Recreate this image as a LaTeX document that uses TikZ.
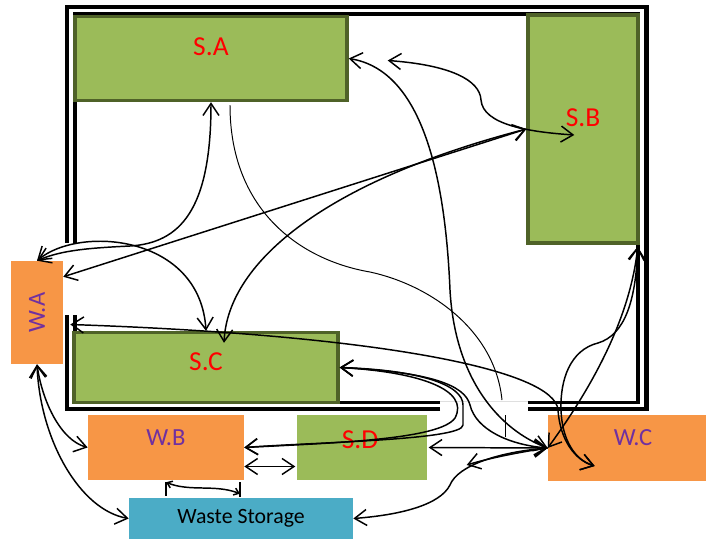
\documentclass[tikz,border=0pt]{standalone}
\usepackage{fontspec}
\setmainfont{Carlito}
\usepackage{xcolor}
\usetikzlibrary{arrows.meta, positioning, calc}

\definecolor{roomgreen}{HTML}{9BBB59}
\definecolor{roomedge}{HTML}{4F6228}
\definecolor{binorange}{HTML}{F79646}
\definecolor{storeblue}{HTML}{4BACC6}
\definecolor{binpurple}{HTML}{7030A0}

\begin{document}
\begin{tikzpicture}[x=0.025cm, y=-0.025cm,
  >={Straight Barb[length=3mm, width=4mm]},
  room/.style={draw=roomedge, line width=2.4pt, fill=roomgreen, inner sep=0pt},
  bin/.style={fill=binorange, inner sep=0pt},
  store/.style={fill=storeblue, inner sep=0pt, font=\fontsize{15.5}{18}\selectfont},
  roomtxt/.style={text=red, font=\fontsize{19.5}{22}\selectfont},
  bintxt/.style={text=binpurple, font=\fontsize{17.5}{20}\selectfont},
  wall/.style={line width=3pt},
  link/.style={<->, line width=1.05pt},
  trace/.style={line width=0.7pt},
  minilink/.style={{Straight Barb[length=1.2mm, width=1.8mm]}-{Straight Barb[length=1.2mm, width=1.8mm]}, line width=1.05pt}
]
  \useasboundingbox (0,0) rectangle (706,539);

  % Walls (double line, openings left and bottom)
  \draw[wall] (67,243) -- (67,7) -- (646.5,7) -- (646.5,409) -- (528,409);
  \draw[wall] (440,409) -- (67,409) -- (67,315);
  \draw[wall, line width=2.6pt] (75,243) -- (75,14) -- (638,14) -- (638,402.5) -- (528,402.5);
  \draw[wall, line width=2.6pt] (440,402.5) -- (75,402.5) -- (75,315);

  % Door
  \draw[gray!25, trace] (440,401) -- (528,401);
  \draw[trace] (505,415) -- (505,437);

  % Rooms
  \node[room, minimum width=6.8cm, minimum height=2.1cm,
        label={[roomtxt, yshift=0.29cm]center:S.A}] (sa) at (211,58.5) {};
  \node[room, minimum width=2.75cm, minimum height=5.7cm,
        label={[roomtxt, yshift=0.27cm]center:S.B}] (sb) at (583,129) {};
  \node[room, minimum width=6.6cm, minimum height=1.75cm,
        label={[roomtxt, yshift=0.14cm]center:S.C}] (sc) at (206,367.5) {};
  \node[room, draw=none, minimum width=3.25cm, minimum height=1.625cm,
        label={[roomtxt, xshift=-0.05cm, yshift=0.19cm]center:S.D}] (sd) at (362,447.5) {};

  % Waste points
  \node[bin, minimum width=1.3cm, minimum height=2.575cm,
        label={[bintxt, rotate=90]center:W.A}] (wa) at (37,312.5) {};
  \node[bin, minimum width=3.9cm, minimum height=1.625cm,
        label={[bintxt, yshift=0.24cm]center:W.B}] (wb) at (166,447.5) {};
  \node[bin, minimum width=3.95cm, minimum height=1.65cm,
        label={[bintxt, xshift=0.15cm, yshift=0.27cm]center:W.C}] (wc) at (627,448) {};
  \node[store, minimum width=5.6cm, minimum height=1.025cm] (ws) at (241,518.5) {Waste Storage};

  % Free ends
  \coordinate (wa-r) at ($(wa.north east)!0.155!(wa.south east)$);
  \coordinate (wa-in) at ($(wa.east)+(7,12)$);
  \coordinate (sc-in) at ($(sc.north)+(18,12)$);
  \coordinate (sb-in) at ($(sb.west)+(48,6)$);
  \coordinate (sb-bot) at ($(sb.south east)+(-2,2)$);
  \coordinate (sa-mark) at ($(sa.east)+(39,2)$);
  \coordinate (sa-foot) at ($(sa.south)+(19,3)$);
  \coordinate (door) at (502,400);
  \coordinate (wc-in) at ($(wc.west)+(47,18)$);
  \coordinate (wc-arr) at ($(wc.west)+(-81,17)$);
  \coordinate (wb-low) at ($(wb.east)+(0,19)$);
  \coordinate (sd-low) at ($(sd.west)+(0,19)$);
  \coordinate (wb-foot) at ($(wb.south)+(0,2)$);
  \coordinate (ws-head) at ($(ws.north)+(-1,-1)$);

  % Routes inside the building
  \draw[link] (sa.south) .. controls (211,210) and (180,243) .. (130,246)
              .. controls (90,248) and (62,250) .. (wa.north);
  \draw[link] (wa.north) .. controls (80,225) and (200,235) .. (sc.north);
  \draw[link] (wa-r) -- (sb.west);
  \draw[link] (sc-in) .. controls (228,260) and (330,180) .. (sb.west);
  \draw[link] (sa-mark) .. controls (450,65) and (480,80) .. (481,100)
              .. controls (483,125) and (530,132) .. (sb-in);
  \draw[link] (sa.east) .. controls (420,70) and (445,170) .. (450,290)
              .. controls (455,380) and (500,430) .. (wc.west);
  \draw[trace] (sa-foot) .. controls (230,210) and (300,260) .. (370,272)
              .. controls (430,285) and (495,330) .. (door);
  \draw[link] (wa-in) .. controls (380,335) and (555,370) .. (558,410)
              .. controls (560,440) and (575,460) .. (wc-in);
  \draw[link] (wc.west) .. controls (590,390) and (630,320) .. (sb-bot);
  \draw[link] (sb-bot) .. controls (636,300) and (625,335) .. (598,343)
              .. controls (570,350) and (560,380) .. (561,410)
              .. controls (562,440) and (575,460) .. (wc-in);

  % Routes out of S.C
  \draw[link] (sc.east) .. controls (420,372) and (470,390) .. (455,418)
              .. controls (440,440) and (330,443) .. (wb.east);
  \draw[link] (sc.east) .. controls (420,370) and (463,385) .. (463,405) -- (463,425)
              .. controls (463,440) and (320,442) .. (wb.east);
  \draw[link] (sc.east) .. controls (430,372) and (465,385) .. (470,405)
              .. controls (476,430) and (510,445) .. (wc.west);

  % Routes outside
  \draw[link] (sd.east) -- (wc.west);
  \draw[->, line width=1.05pt] (wc.west) .. controls (520,452) and (490,458) .. (wc-arr);
  \draw[link] (ws.east) .. controls (400,515) and (440,505) .. (450,485)
              .. controls (458,465) and (500,452) .. (wc.west);
  \draw[link] (wb-low) -- (sd-low);
  \draw[link] (wa.south) .. controls (42,400) and (60,440) .. (wb.west);
  \draw[link] (wa.south) .. controls (40,440) and (80,510) .. (ws.west);

  % W.B to storage
  \draw[line width=1.05pt] (wb-foot) -- ++(0,14);
  \draw[line width=1.05pt] (ws-head) -- ++(0,-15);
  \draw[minilink] (wb-foot) .. controls (190,492) and (215,484) .. ($(ws-head)+(0,-3)$);
\end{tikzpicture}
\end{document}
